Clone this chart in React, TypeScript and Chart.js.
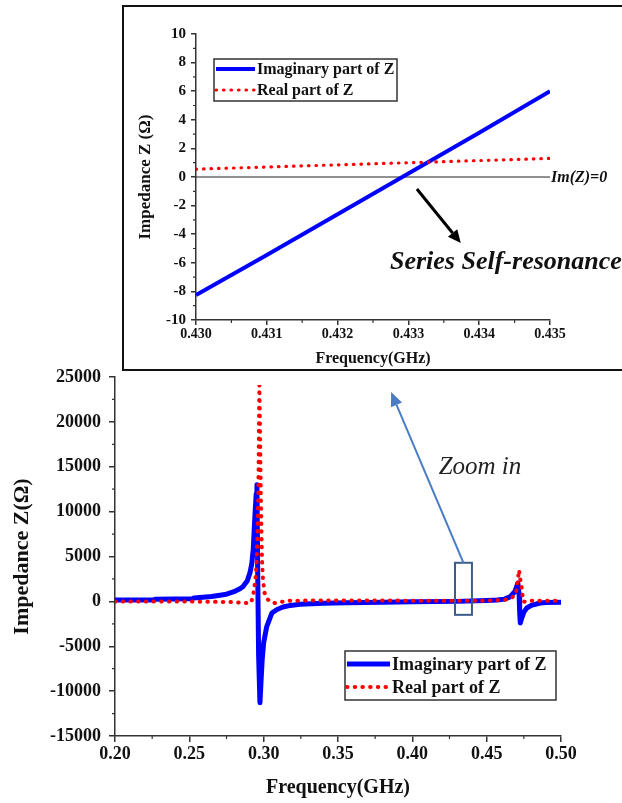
import React, { useEffect, useRef } from 'react';
import { Chart, registerables } from 'chart.js';

Chart.register(...registerables);

const SERIF = "'Liberation Serif', 'Times New Roman', serif";
const AXIS_COLOR = '#333';
const TEXT_COLOR = '#111';

// ---------- Series names ----------
const seriesLabels = ['Imaginary part of Z', 'Real part of Z'];

// ---------- Main chart data (0.20 - 0.50 GHz) ----------
const mainImagFreq = [0.200, 0.226, 0.227, 0.252, 0.253, 0.265, 0.275, 0.280, 0.284, 0.286, 0.289, 0.2908, 0.292, 0.293, 0.2942, 0.2950, 0.2955, 0.2960, 0.2966, 0.2975, 0.2982, 0.2990, 0.3000, 0.3020, 0.3055, 0.3090, 0.3130, 0.3180, 0.3245, 0.3400, 0.3560, 0.3800, 0.4000, 0.4300, 0.4500, 0.4570, 0.4620, 0.4657, 0.4690, 0.4710, 0.4718, 0.4722, 0.4726, 0.4735, 0.4750, 0.4770, 0.4800, 0.4860, 0.4900, 0.5000];
const mainImagZ = [150, 150, 250, 300, 380, 550, 800, 1080, 1400, 1640, 2300, 3200, 4200, 5800, 9800, 12000, 13000, 3000, -6000, -11300, -9000, -6500, -4600, -2850, -1300, -900, -630, -450, -330, -220, -150, -100, -50, 0, 100, 150, 250, 500, 1100, 2050, 800, -1200, -2400, -1900, -1200, -740, -450, -180, -130, -100];

const mainRealFreq = [0.200, 0.250, 0.280, 0.2863, 0.2915, 0.2930, 0.2945, 0.2953, 0.2960, 0.2964, 0.2968, 0.2971, 0.2975, 0.2980, 0.2985, 0.2989, 0.2995, 0.3005, 0.3020, 0.3045, 0.3070, 0.3120, 0.3177, 0.350, 0.400, 0.450, 0.462, 0.467, 0.4697, 0.4708, 0.4718, 0.4726, 0.4738, 0.4745, 0.4760, 0.4800, 0.5000];
const mainRealZ = [0, -20, -80, -190, -150, 700, 2500, 4600, 9000, 12000, 19000, 24100, 20000, 13000, 8000, 4600, 2500, 1000, 340, -50, -190, -50, 80, 100, 80, 80, 150, 400, 900, 2200, 3500, 2500, 1270, 0, -50, 80, 80];

// ---------- Inset data (0.430 - 0.435 GHz) ----------
const insetFreq = [0.430, 0.431, 0.432, 0.433, 0.434, 0.435];
const insetImagZ = [-8.25, -5.45, -2.6, 0.25, 3.1, 6.0];
const insetRealZ = [0.55, 0.7, 0.85, 1.0, 1.15, 1.3];

// ---------- Axis ranges ----------
const mainXRange = [0.2, 0.5, 0.05];
const mainYRange = [-15000, 25000, 5000];
const insetXRange = [0.43, 0.435, 0.001];
const insetYRange = [-10, 10, 2];

// ---------- Annotations (data coordinates) ----------
const zoomBox = { f0: 0.4287, f1: 0.4401, z0: -1500, z1: 4300 };
const zoomArrowTip = { f: 0.3857, z: 23330 };
const zoomLabel = { f: 0.4455, z: 14972, text: 'Zoom in' };
const resArrow = { f0: 0.43312, z0: -0.84, f1: 0.43374, z1: -4.62 };
const resLabel = { f: 0.43274, z: -5.94, text: 'Series Self-resonance' };
const zeroLabel = 'Im(Z)=0';

Chart.defaults.font.family = SERIF;
Chart.defaults.color = TEXT_COLOR;

function toPts(xs: number[], ys: number[]) {
  return xs.map((x, i) => ({ x, y: ys[i] }));
}

function drawArrow(ctx: CanvasRenderingContext2D, x0: number, y0: number, x1: number, y1: number, color: string, width: number, headLen: number, headHalf: number) {
  const ang = Math.atan2(y1 - y0, x1 - x0);
  const bx = x1 - headLen * Math.cos(ang);
  const by = y1 - headLen * Math.sin(ang);
  ctx.save();
  ctx.strokeStyle = color;
  ctx.fillStyle = color;
  ctx.lineWidth = width;
  ctx.beginPath();
  ctx.moveTo(x0, y0);
  ctx.lineTo(bx, by);
  ctx.stroke();
  ctx.beginPath();
  ctx.moveTo(x1, y1);
  ctx.lineTo(bx + headHalf * Math.sin(ang), by - headHalf * Math.cos(ang));
  ctx.lineTo(bx - headHalf * Math.sin(ang), by + headHalf * Math.cos(ang));
  ctx.closePath();
  ctx.fill();
  ctx.restore();
}

function drawMinorTicks(chart: any, len: number) {
  const { ctx } = chart;
  const xs = chart.scales.x;
  const ys = chart.scales.y;
  ctx.save();
  ctx.strokeStyle = AXIS_COLOR;
  ctx.lineWidth = 1.2;
  ctx.beginPath();
  const xt = xs.ticks;
  for (let i = 0; i < xt.length - 1; i++) {
    const m = (xs.getPixelForValue(xt[i].value) + xs.getPixelForValue(xt[i + 1].value)) / 2;
    ctx.moveTo(m, xs.top);
    ctx.lineTo(m, xs.top + len);
  }
  const yt = ys.ticks;
  for (let i = 0; i < yt.length - 1; i++) {
    const m = (ys.getPixelForValue(yt[i].value) + ys.getPixelForValue(yt[i + 1].value)) / 2;
    ctx.moveTo(ys.right, m);
    ctx.lineTo(ys.right - len, m);
  }
  ctx.stroke();
  ctx.restore();
}

type LegendBox = { x: number; y: number; w: number; h: number; sample: number; rows: number[]; font: number };

function drawLegend(chart: any, box: LegendBox) {
  const { ctx } = chart;
  ctx.save();
  ctx.fillStyle = '#fff';
  ctx.fillRect(box.x, box.y, box.w, box.h);
  ctx.strokeStyle = AXIS_COLOR;
  ctx.lineWidth = 1.5;
  ctx.strokeRect(box.x, box.y, box.w, box.h);
  chart.data.datasets.forEach((ds: any, i: number) => {
    const y = box.rows[i];
    ctx.save();
    ctx.strokeStyle = ds.borderColor;
    ctx.lineWidth = ds.borderWidth;
    ctx.lineCap = ds.borderCapStyle || 'butt';
    ctx.setLineDash(ds.borderDash || []);
    ctx.beginPath();
    ctx.moveTo(box.x + 2, y);
    ctx.lineTo(box.x + box.sample, y);
    ctx.stroke();
    ctx.restore();
    ctx.fillStyle = TEXT_COLOR;
    ctx.font = `bold ${box.font}px ${SERIF}`;
    ctx.textBaseline = 'middle';
    ctx.textAlign = 'left';
    ctx.fillText(ds.label, box.x + box.sample + 2, y + 1);
  });
  ctx.restore();
}

function axisCommon(tickLen: number) {
  return {
    grid: { display: true, drawOnChartArea: false, drawTicks: true, tickLength: tickLen, color: AXIS_COLOR, lineWidth: 1.5 },
    border: { display: true, color: AXIS_COLOR, width: 1.5 },
  };
}

function mainConfig(): any {
  const legendBox: LegendBox = { x: 345, y: 651, w: 211, h: 49, sample: 45, rows: [664, 687], font: 18 };
  return {
    type: 'line',
    data: {
      datasets: [
        { label: seriesLabels[0], data: toPts(mainImagFreq, mainImagZ), borderColor: '#0000ff', borderWidth: 5, pointRadius: 0, tension: 0, order: 2, borderJoinStyle: 'round' },
        { label: seriesLabels[1], data: toPts(mainRealFreq, mainRealZ), borderColor: '#ff0000', borderWidth: 4, borderDash: [0.5, 7.2], borderCapStyle: 'round', pointRadius: 0, tension: 0, order: 1 },
      ],
    },
    options: {
      responsive: false,
      animation: false,
      events: [],
      layout: { padding: { left: 0, top: 377, right: 61, bottom: 0 } },
      plugins: { legend: { display: false }, tooltip: { enabled: false } },
      scales: {
        x: {
          type: 'linear', min: mainXRange[0], max: mainXRange[1],
          afterFit: (s: any) => { s.height = 67; },
          ticks: { stepSize: mainXRange[2], callback: (v: any) => Number(v).toFixed(2), font: { size: 18, weight: 'bold' }, color: TEXT_COLOR, padding: 2, autoSkip: false, maxRotation: 0 },
          title: { display: true, text: 'Frequency(GHz)', font: { size: 20, weight: 'bold' }, color: TEXT_COLOR, padding: { top: 0, bottom: 3 } },
          ...axisCommon(6),
        },
        y: {
          type: 'linear', min: mainYRange[0], max: mainYRange[1],
          afterFit: (s: any) => { s.width = 115; },
          ticks: { stepSize: mainYRange[2], callback: (v: any) => String(Math.round(Number(v))), font: { size: 18, weight: 'bold' }, color: TEXT_COLOR, padding: 8 },
          title: { display: true, text: 'Impedance Z(Ω)', font: { size: 22, weight: 'bold' }, color: TEXT_COLOR, padding: { top: 9, bottom: 0 } },
          ...axisCommon(6),
        },
      },
    },
    plugins: [
      {
        id: 'mainDecor',
        afterDatasetsDraw(chart: any) {
          const { ctx, scales: { x, y } } = chart;
          drawMinorTicks(chart, 3);
          const bx0 = x.getPixelForValue(zoomBox.f0);
          const bx1 = x.getPixelForValue(zoomBox.f1);
          const by0 = y.getPixelForValue(zoomBox.z1);
          const by1 = y.getPixelForValue(zoomBox.z0);
          ctx.save();
          ctx.strokeStyle = '#3c5d8c';
          ctx.lineWidth = 2;
          ctx.strokeRect(bx0, by0, bx1 - bx0, by1 - by0);
          ctx.restore();
          drawArrow(ctx, (bx0 + bx1) / 2, by0, x.getPixelForValue(zoomArrowTip.f), y.getPixelForValue(zoomArrowTip.z), '#4a7cc4', 2, 14, 6);
          ctx.save();
          ctx.fillStyle = '#222';
          ctx.font = `italic 25px ${SERIF}`;
          ctx.textAlign = 'center';
          ctx.textBaseline = 'middle';
          ctx.fillText(zoomLabel.text, x.getPixelForValue(zoomLabel.f), y.getPixelForValue(zoomLabel.z));
          ctx.restore();
        },
        afterDraw(chart: any) {
          drawLegend(chart, legendBox);
        },
      },
    ],
  };
}

function insetConfig(): any {
  const legendBox: LegendBox = { x: 89, y: 51, w: 183, h: 42, sample: 41, rows: [61, 82], font: 16 };
  return {
    type: 'line',
    data: {
      datasets: [
        { label: seriesLabels[0], data: toPts(insetFreq, insetImagZ), borderColor: '#0000ff', borderWidth: 4, pointRadius: 0, tension: 0, order: 2 },
        { label: seriesLabels[1], data: toPts(insetFreq, insetRealZ), borderColor: '#ff0000', borderWidth: 3.2, borderDash: [0.5, 7], borderCapStyle: 'round', pointRadius: 0, tension: 0, order: 1 },
      ],
    },
    options: {
      responsive: false,
      animation: false,
      events: [],
      layout: { padding: { left: 0, top: 26, right: 72, bottom: 0 } },
      plugins: { legend: { display: false }, tooltip: { enabled: false } },
      scales: {
        x: {
          type: 'linear', min: insetXRange[0], max: insetXRange[1],
          afterFit: (s: any) => { s.height = 48; },
          ticks: { stepSize: insetXRange[2], callback: (v: any) => Number(v).toFixed(3), font: { size: 14, weight: 'bold' }, color: TEXT_COLOR, padding: 1, autoSkip: false, maxRotation: 0 },
          title: { display: true, text: 'Frequency(GHz)', font: { size: 16, weight: 'bold' }, color: TEXT_COLOR, padding: { top: 0, bottom: 0 } },
          ...axisCommon(5),
        },
        y: {
          type: 'linear', min: insetYRange[0], max: insetYRange[1],
          afterFit: (s: any) => { s.width = 71; },
          ticks: { stepSize: insetYRange[2], callback: (v: any) => String(Math.round(Number(v))), font: { size: 15, weight: 'bold' }, color: TEXT_COLOR, padding: 5 },
          title: { display: true, text: 'Impedance Z (Ω)', font: { size: 17, weight: 'bold' }, color: TEXT_COLOR, padding: { top: 10, bottom: 0 } },
          ...axisCommon(5),
        },
      },
    },
    plugins: [
      {
        id: 'insetDecor',
        beforeDatasetsDraw(chart: any) {
          const { ctx, chartArea, scales: { y } } = chart;
          const y0 = y.getPixelForValue(0);
          ctx.save();
          ctx.strokeStyle = '#222';
          ctx.lineWidth = 1;
          ctx.beginPath();
          ctx.moveTo(chartArea.left, y0);
          ctx.lineTo(chartArea.right, y0);
          ctx.stroke();
          ctx.restore();
        },
        afterDatasetsDraw(chart: any) {
          const { ctx, chartArea, scales: { x, y } } = chart;
          drawMinorTicks(chart, 3);
          ctx.save();
          ctx.fillStyle = TEXT_COLOR;
          ctx.font = `italic bold 16px ${SERIF}`;
          ctx.textAlign = 'left';
          ctx.textBaseline = 'middle';
          ctx.fillText(zeroLabel, chartArea.right + 1, y.getPixelForValue(0) + 1);
          ctx.restore();
          drawArrow(ctx, x.getPixelForValue(resArrow.f0), y.getPixelForValue(resArrow.z0), x.getPixelForValue(resArrow.f1), y.getPixelForValue(resArrow.z1), '#000', 3, 13, 6);
          ctx.save();
          ctx.fillStyle = TEXT_COLOR;
          ctx.font = `italic bold 26px ${SERIF}`;
          ctx.textAlign = 'left';
          ctx.textBaseline = 'middle';
          ctx.fillText(resLabel.text, x.getPixelForValue(resLabel.f), y.getPixelForValue(resLabel.z));
          ctx.restore();
        },
        afterDraw(chart: any) {
          drawLegend(chart, legendBox);
        },
      },
    ],
  };
}

export default function App() {
  const mainRef = useRef<HTMLCanvasElement>(null);
  const insetRef = useRef<HTMLCanvasElement>(null);
  useEffect(() => {
    const main = new Chart(mainRef.current as HTMLCanvasElement, mainConfig());
    const inset = new Chart(insetRef.current as HTMLCanvasElement, insetConfig());
    return () => {
      main.destroy();
      inset.destroy();
    };
  }, []);
  return (
    <div style={{ position: 'absolute', left: 0, top: 0, width: 622, height: 803, background: '#fff', overflow: 'hidden' }}>
      <canvas ref={mainRef} width={622} height={803} style={{ position: 'absolute', left: 0, top: 0 }} />
      <div
        style={{
          position: 'absolute', left: 122, top: 5, width: 500, height: 366, boxSizing: 'border-box',
          borderTop: '2.5px solid #111', borderLeft: '2.5px solid #111', borderBottom: '2.5px solid #111', background: '#fff',
        }}
      />
      <canvas ref={insetRef} width={497} height={360} style={{ position: 'absolute', left: 125, top: 8 }} />
    </div>
  );
}
